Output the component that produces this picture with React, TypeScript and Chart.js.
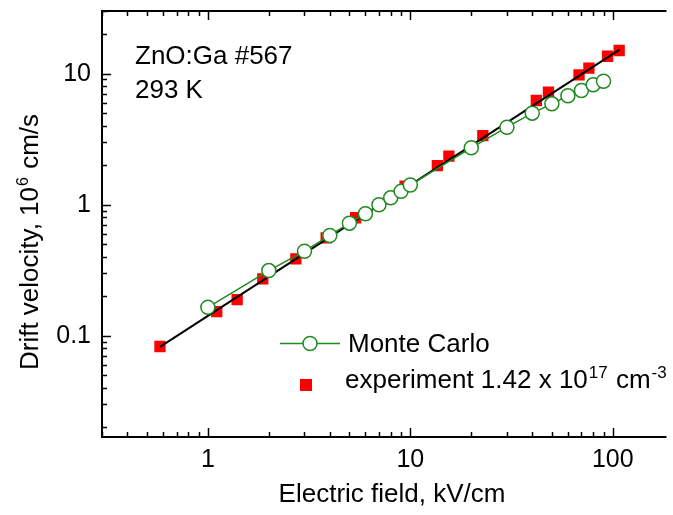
import { useEffect, useRef } from 'react';
import { Chart, registerables } from 'chart.js';
Chart.register(...registerables);

// ---- data ----
const mcE = [1, 2, 3, 4, 5, 6, 7, 8, 9, 10, 20, 30, 40, 50, 60, 70, 80, 90];
const mcV = [0.164, 0.313, 0.44, 0.58, 0.72, 0.85, 0.995, 1.125, 1.26, 1.41, 2.71, 3.89, 4.98, 5.87, 6.76, 7.42, 8.2, 8.73];
const expE = [0.58, 1.106, 1.395, 1.867, 2.72, 3.84, 5.37, 9.42, 13.6, 15.5, 22.8, 41.9, 48.1, 68.1, 76.2, 94.2, 107.5];
const expV = [0.0824, 0.152, 0.188, 0.271, 0.385, 0.557, 0.792, 1.38, 1.98, 2.34, 3.36, 6.22, 7.2, 9.77, 10.98, 13.55, 14.98];
const fitE = [0.58, 108];
const fitV = [0.082, 15.2];

const xTickVals = [1, 10, 100];
const xTickLabels = ['1', '10', '100'];
const yTickVals = [0.1, 1, 10];
const yTickLabels = ['0.1', '1', '10'];

const X_MIN = 0.3;
const X_MAX = 180;
const Y_MIN = 0.0168;
const Y_MAX = 30;

const FONT = '"Liberation Sans", Arial, Helvetica, sans-serif';
const GREEN = '#1f8a1f';
const RED = '#ff0000';

type Part = { t: string; sup?: boolean };

function drawRich(ctx: CanvasRenderingContext2D, parts: Part[], x: number, y: number, size: number, supSize: number, align: 'left' | 'center') {
  const widths = parts.map((p) => {
    ctx.font = `${p.sup ? supSize : size}px ${FONT}`;
    return ctx.measureText(p.t).width + (p.sup ? 2 : 0);
  });
  const total = widths.reduce((a, b) => a + b, 0);
  let cx = align === 'center' ? x - total / 2 : x;
  ctx.textAlign = 'left';
  ctx.textBaseline = 'alphabetic';
  parts.forEach((p, i) => {
    ctx.font = `${p.sup ? supSize : size}px ${FONT}`;
    ctx.fillText(p.t, cx + (p.sup ? 1 : 0), p.sup ? y - size * 0.4 : y);
    cx += widths[i];
  });
}

export default function App() {
  const ref = useRef<HTMLCanvasElement>(null);

  useEffect(() => {
    const canvas = ref.current!;
    const decorPlugin = {
      id: 'decor',
      afterDatasetsDraw(chart: any) {
        const ctx: CanvasRenderingContext2D = chart.ctx;
        const xs = chart.scales.x;
        const ys = chart.scales.y;
        const { left, right, top, bottom } = chart.chartArea;
        ctx.save();
        // ticks
        ctx.strokeStyle = '#000';
        ctx.lineWidth = 1.5;
        ctx.beginPath();
        for (const d of [0.1, 1, 10, 100]) {
          for (let m = 1; m <= 9; m++) {
            const v = d * m;
            if (v < X_MIN || v > X_MAX) continue;
            const px = Math.round(xs.getPixelForValue(v)) + 0.5;
            const len = m === 1 ? 9 : 5;
            ctx.moveTo(px, bottom);
            ctx.lineTo(px, bottom - len);
            ctx.moveTo(px, top);
            ctx.lineTo(px, top + len);
          }
        }
        for (const d of [0.01, 0.1, 1, 10]) {
          for (let m = 1; m <= 9; m++) {
            const v = d * m;
            if (v < Y_MIN || v > Y_MAX) continue;
            const py = Math.round(ys.getPixelForValue(v)) + 0.5;
            const len = m === 1 ? 9 : 5;
            ctx.moveTo(left, py);
            ctx.lineTo(left + len, py);
          }
        }
        ctx.stroke();
        // frame (left, top, bottom)
        ctx.lineWidth = 2;
        ctx.beginPath();
        ctx.moveTo(right + 2, top);
        ctx.lineTo(left, top);
        ctx.lineTo(left, bottom);
        ctx.lineTo(right + 2, bottom);
        ctx.stroke();

        ctx.fillStyle = '#000';
        // tick labels
        ctx.font = `25px ${FONT}`;
        ctx.textAlign = 'center';
        ctx.textBaseline = 'alphabetic';
        xTickVals.forEach((v, i) => {
          ctx.fillText(xTickLabels[i], xs.getPixelForValue(v), 467);
        });
        ctx.textAlign = 'right';
        ctx.textBaseline = 'middle';
        yTickVals.forEach((v, i) => {
          ctx.fillText(yTickLabels[i], 91, ys.getPixelForValue(v) + 1);
        });

        // axis titles
        drawRich(ctx, [{ t: 'Electric field, kV/cm' }], 392, 502, 26, 16, 'center');
        ctx.save();
        ctx.translate(38, 242);
        ctx.rotate(-Math.PI / 2);
        drawRich(ctx, [{ t: 'Drift velocity, 10' }, { t: '6', sup: true }, { t: ' cm/s' }], 0, 0, 26, 16, 'center');
        ctx.restore();

        // annotation
        drawRich(ctx, [{ t: 'ZnO:Ga #567' }], 135, 64, 26, 16, 'left');
        drawRich(ctx, [{ t: '293 K' }], 135, 98, 26, 16, 'left');

        // legend
        ctx.strokeStyle = GREEN;
        ctx.lineWidth = 1.5;
        ctx.beginPath();
        ctx.moveTo(280, 343.5);
        ctx.lineTo(340, 343.5);
        ctx.stroke();
        ctx.beginPath();
        ctx.arc(310, 343.5, 7, 0, Math.PI * 2);
        ctx.fillStyle = '#fff';
        ctx.fill();
        ctx.stroke();
        ctx.fillStyle = RED;
        ctx.fillRect(300, 379, 12, 12);
        ctx.fillStyle = '#000';
        drawRich(ctx, [{ t: 'Monte Carlo' }], 348, 352, 26, 16, 'left');
        drawRich(ctx, [{ t: 'experiment 1.42 x 10' }, { t: '17', sup: true }, { t: ' cm' }, { t: '-3', sup: true }], 345, 388, 26, 17, 'left');
        ctx.restore();
      },
    };

    const chart = new Chart(canvas, {
      type: 'scatter',
      data: {
        datasets: [
          {
            label: 'Monte Carlo',
            data: mcE.map((e, i) => ({ x: e, y: mcV[i] })),
            showLine: true,
            borderColor: GREEN,
            borderWidth: 1.5,
            pointRadius: 7,
            pointBackgroundColor: '#fff',
            pointBorderColor: GREEN,
            pointBorderWidth: 1.5,
            backgroundColor: '#fff',
          },
          {
            label: 'fit',
            data: fitE.map((e, i) => ({ x: e, y: fitV[i] })),
            showLine: true,
            borderColor: '#000',
            borderWidth: 2,
            pointRadius: 0,
          },
          {
            label: 'experiment',
            data: expE.map((e, i) => ({ x: e, y: expV[i] })),
            showLine: false,
            pointStyle: 'rect',
            pointRadius: 8,
            pointBackgroundColor: RED,
            pointBorderWidth: 0,
            borderWidth: 0,
            backgroundColor: RED,
          },
        ],
      },
      options: {
        responsive: false,
        animation: false,
        devicePixelRatio: 1,
        events: [],
        layout: { padding: { left: 102, top: 11, right: 0, bottom: 78 } },
        scales: {
          x: { type: 'logarithmic', min: X_MIN, max: X_MAX, display: false },
          y: { type: 'logarithmic', min: Y_MIN, max: Y_MAX, display: false },
        },
        plugins: {
          legend: { display: false },
          tooltip: { enabled: false },
        },
      },
      plugins: [decorPlugin],
    } as any);
    return () => chart.destroy();
  }, []);

  return (
    <div style={{ position: 'absolute', left: 0, top: 0, width: 673, height: 515, background: '#fff' }}>
      <canvas ref={ref} width={673} height={515} style={{ display: 'block', width: 673, height: 515 }} />
    </div>
  );
}
